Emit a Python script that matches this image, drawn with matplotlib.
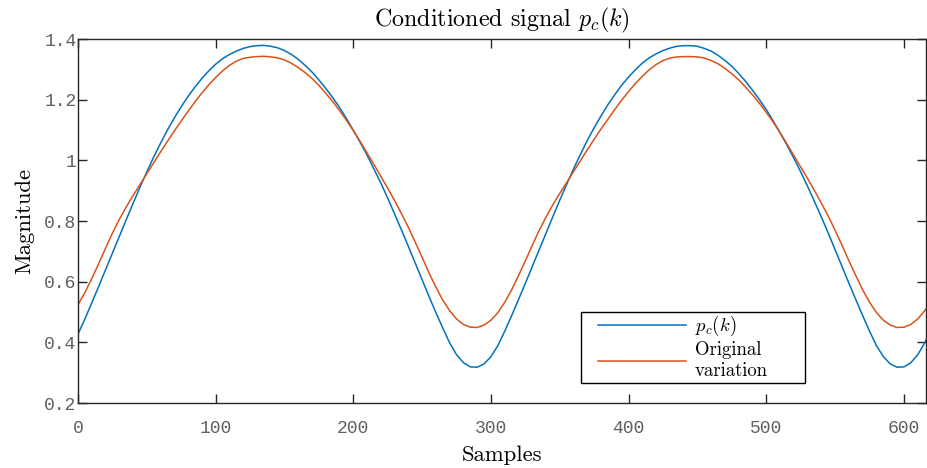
import matplotlib
matplotlib.use('Agg')
import matplotlib.pyplot as plt
from matplotlib.patches import Rectangle
from matplotlib.ticker import FuncFormatter

plt.rcParams['mathtext.fontset'] = 'cm'

# sample index (read every 5 samples)
samples = list(range(0, 616, 5)) + [616]

# conditioned signal p_c(k)
p_c = [0.427, 0.477, 0.530, 0.584, 0.639, 0.694, 0.749, 0.804, 0.858, 0.911,
       0.962, 1.011, 1.057, 1.100, 1.140, 1.177, 1.211, 1.242, 1.270, 1.295,
       1.317, 1.335, 1.349, 1.360, 1.369, 1.375, 1.378,
       1.379, 1.376, 1.371, 1.362, 1.349, 1.333, 1.313, 1.291, 1.265, 1.237,
       1.207, 1.174, 1.138, 1.099, 1.059, 1.017, 0.971, 0.925, 0.875, 0.823,
       0.770, 0.716, 0.661, 0.606, 0.551, 0.498, 0.447, 0.398, 0.359, 0.333,
       0.319,
       0.318, 0.329, 0.353, 0.389, 0.437, 0.488, 0.541, 0.595, 0.650, 0.705,
       0.760, 0.815, 0.869, 0.921, 0.972, 1.020, 1.066, 1.108, 1.147, 1.184,
       1.217, 1.248, 1.275, 1.299, 1.321, 1.338, 1.351, 1.362, 1.370, 1.376,
       1.378,
       1.378, 1.376, 1.369, 1.360, 1.346, 1.329, 1.310, 1.286, 1.260, 1.231,
       1.200, 1.167, 1.130, 1.091, 1.050, 1.007, 0.962, 0.914, 0.864, 0.813,
       0.760, 0.705, 0.650, 0.595, 0.541, 0.488, 0.437, 0.389, 0.353, 0.329,
       0.318,
       0.319, 0.333, 0.359, 0.398, 0.407]

# original variation
original = [0.524, 0.564, 0.610, 0.659, 0.710, 0.760, 0.805, 0.846, 0.884, 0.920,
            0.956, 0.992, 1.028, 1.063, 1.097, 1.130, 1.162, 1.193, 1.222, 1.249,
            1.273, 1.295, 1.313, 1.327, 1.336, 1.340, 1.342,
            1.343, 1.341, 1.338, 1.331, 1.320, 1.306, 1.289, 1.270, 1.247, 1.221,
            1.194, 1.164, 1.132, 1.098, 1.062, 1.024, 0.986, 0.947, 0.908, 0.867,
            0.824, 0.779, 0.730, 0.680, 0.629, 0.582, 0.539, 0.504, 0.477, 0.459,
            0.450,
            0.449, 0.457, 0.473, 0.498, 0.532, 0.573, 0.620, 0.669, 0.720, 0.769,
            0.813, 0.854, 0.891, 0.927, 0.963, 0.999, 1.035, 1.070, 1.104, 1.136,
            1.168, 1.199, 1.227, 1.254, 1.277, 1.299, 1.316, 1.329, 1.337, 1.341,
            1.342,
            1.342, 1.341, 1.337, 1.329, 1.318, 1.303, 1.285, 1.265, 1.241, 1.216,
            1.188, 1.158, 1.126, 1.091, 1.054, 1.016, 0.978, 0.940, 0.900, 0.859,
            0.816, 0.769, 0.720, 0.669, 0.620, 0.573, 0.532, 0.498, 0.473, 0.457,
            0.449,
            0.450, 0.459, 0.477, 0.504, 0.510]

xticks = [0, 100, 200, 300, 400, 500, 600]
yticks = [0.2, 0.4, 0.6, 0.8, 1.0, 1.2, 1.4]

W, H = 927, 468
fig = plt.figure(figsize=(W / 100, H / 100), dpi=100)
ax = fig.add_axes([78 / W, 1 - 403 / H, (926 - 78) / W, (403 - 39) / H])

ax.plot(samples, p_c, color='#0072BD', lw=1.1, label=r'$p_c(k)$')
ax.plot(samples, original, color='#D95319', lw=1.1, label='Original\nvariation')

ax.set_xlim(0, 616)
ax.set_ylim(0.2, 1.4)
ax.set_xticks(xticks)
ax.set_yticks(yticks)
ax.yaxis.set_major_formatter(FuncFormatter(lambda v, p: '%g' % v))

for s in ax.spines.values():
    s.set_color('#262626')
    s.set_linewidth(1.0)
ax.tick_params(direction='in', length=6.5, width=1.0, color='#262626',
               top=True, right=True, labelcolor='#606060')
ax.tick_params(axis='x', pad=12.5)
ax.tick_params(axis='y', pad=1)
for lab in ax.get_xticklabels() + ax.get_yticklabels():
    lab.set_family('Liberation Mono')
    lab.set_fontsize(13)

ax.set_title(r'Conditioned signal $p_c(k)$', family='cmr10', fontsize=17.3, pad=9)
ax.set_xlabel('Samples', family='cmr10', fontsize=16.3, labelpad=6)
ax.set_ylabel('Magnitude', family='cmr10', fontsize=16.3, labelpad=7.5)

# legend box (MATLAB style, extra room on the right)
box = Rectangle((580.7 / W, 1 - 383.3 / H), (805 - 580.7) / W, (383.3 - 311.7) / H,
                transform=fig.transFigure, facecolor='white', edgecolor='black',
                lw=1.0, zorder=4)
ax.add_patch(box)
leg = ax.legend(loc='upper left', bbox_to_anchor=(598 / W, 1 - 314 / H),
                bbox_transform=fig.transFigure, borderaxespad=0, borderpad=0,
                prop={'family': 'cmr10', 'size': 13.5}, frameon=False,
                handlelength=4.7, handletextpad=0.48, labelspacing=0.15)
leg.set_zorder(5)

fig.savefig('out.png', dpi=100)
